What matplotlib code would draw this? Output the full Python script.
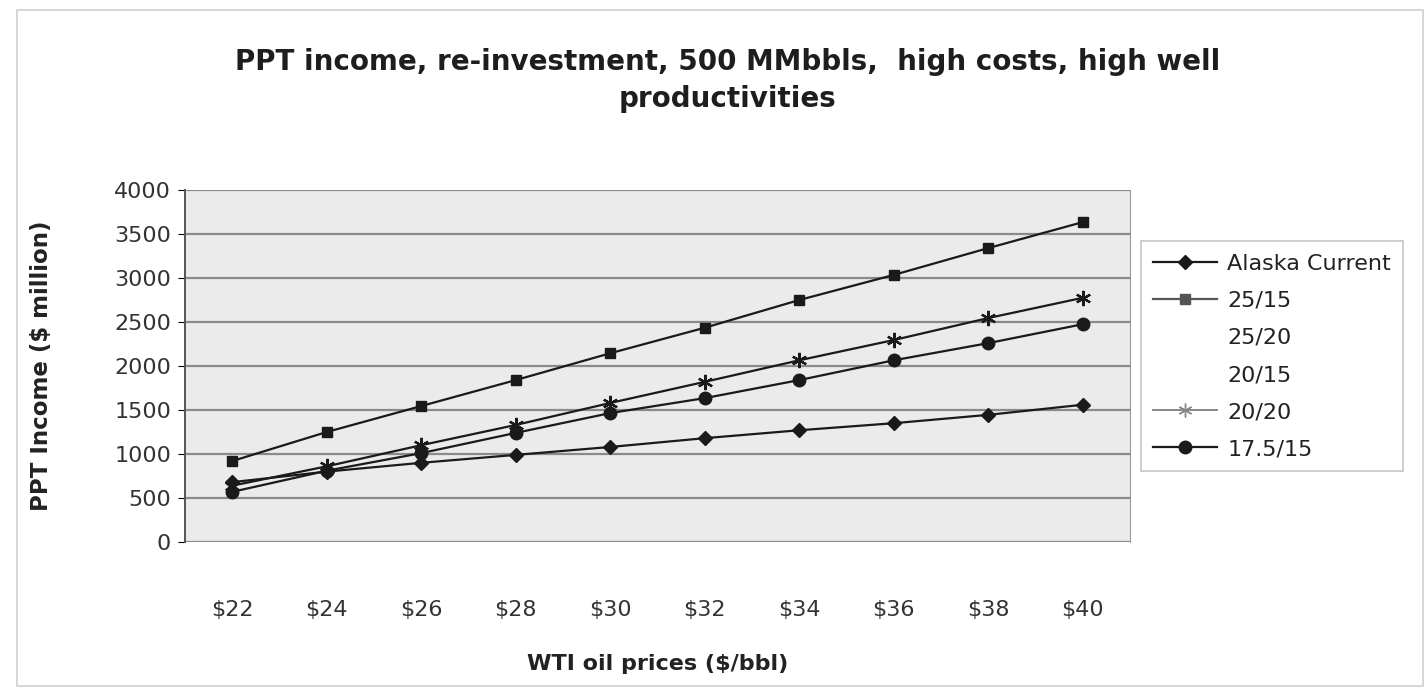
import matplotlib.pyplot as plt
from matplotlib.lines import Line2D
from matplotlib.patches import Rectangle

plt.rcParams['font.family'] = ['DejaVu Sans']

prices = ['$22', '$24', '$26', '$28', '$30', '$32', '$34', '$36', '$38', '$40']
alaska_current = [680, 800, 900, 990, 1080, 1180, 1270, 1350, 1445, 1560]
s25_15 = [920, 1250, 1545, 1840, 2145, 2435, 2750, 3035, 3340, 3635]
s20_20 = [640, 860, 1100, 1330, 1580, 1820, 2065, 2295, 2545, 2775]
s17_5_15 = [570, 810, 1010, 1240, 1465, 1635, 1840, 2065, 2260, 2475]
yticks = [0, 500, 1000, 1500, 2000, 2500, 3000, 3500, 4000]

fig = plt.figure(figsize=(14.26, 6.88), dpi=100)
fig.patches.append(Rectangle((0.012, 0.003), 0.986, 0.983, transform=fig.transFigure,
                             fill=False, edgecolor='#cfcfcf', linewidth=1.2))
ax = fig.add_axes([0.1297, 0.2122, 0.6627, 0.5116])
ax.set_facecolor('#ebebeb')

x = list(range(len(prices)))
line_kw = dict(color='#1a1a1a', linewidth=1.6)
ax.plot(x, alaska_current, marker='D', markersize=7, **line_kw, zorder=3)
ax.plot(x, s25_15, marker='s', markersize=7, **line_kw, zorder=3)
ax.plot(x, s20_20, marker=(6, 2, 0), markersize=11, markeredgewidth=1.6, **line_kw, zorder=3)
ax.plot(x, s17_5_15, marker='o', markersize=9, **line_kw, zorder=3)

ax.set_xlim(-0.5, len(prices) - 0.5)
ax.set_ylim(0, 4000)
ax.set_yticks(yticks)
ax.set_xticks(x)
ax.set_xticklabels(prices)
ax.yaxis.grid(True, color='#8a8a8a', linewidth=1.6)
ax.set_axisbelow(True)

for side in ['top', 'bottom']:
    ax.spines[side].set_visible(False)
ax.spines['left'].set_color('#555555')
ax.spines['left'].set_linewidth(1.4)
ax.spines['right'].set_color('#999999')

ax.tick_params(axis='y', labelsize=16, length=5, direction='out', pad=5)
ax.tick_params(axis='x', labelsize=16, length=0, pad=42)
for lab in ax.get_xticklabels() + ax.get_yticklabels():
    lab.set_color('#333333')

ax.set_xlabel('WTI oil prices ($/bbl)', fontsize=16, fontweight='bold', color='#222222', labelpad=24)
ax.set_ylabel('PPT Income ($ million)', fontsize=16.5, fontweight='bold', color='#222222', labelpad=44)

fig.text(0.51, 0.883, 'PPT income, re-investment, 500 MMbbls,  high costs, high well\nproductivities',
         ha='center', va='center', fontsize=20, fontweight='bold', color='#1e1e1e',
         linespacing=1.45)

handles = [
    Line2D([], [], marker='D', markersize=7, **line_kw),
    Line2D([], [], marker='s', markersize=7, color='#555555', linewidth=1.6),
    Line2D([], [], linestyle='none'),
    Line2D([], [], linestyle='none'),
    Line2D([], [], marker=(6, 2, 0), markersize=10, color='#888888', linewidth=1.4),
    Line2D([], [], marker='o', markersize=9, **line_kw),
]
labels = ['Alaska Current', '25/15', '25/20', '20/15', '20/20', '17.5/15']
leg = fig.legend(handles, labels, loc='upper left', bbox_to_anchor=(0.800, 0.649),
                 fontsize=16, frameon=True, fancybox=False, edgecolor='#b8b8b8',
                 handlelength=2.9, labelspacing=0.77, borderpad=0.55, handletextpad=0.45,
                 borderaxespad=0)
leg.get_frame().set_linewidth(1.2)
for t in leg.get_texts():
    t.set_color('#222222')

fig.savefig('out.png', dpi=100, facecolor='white')
